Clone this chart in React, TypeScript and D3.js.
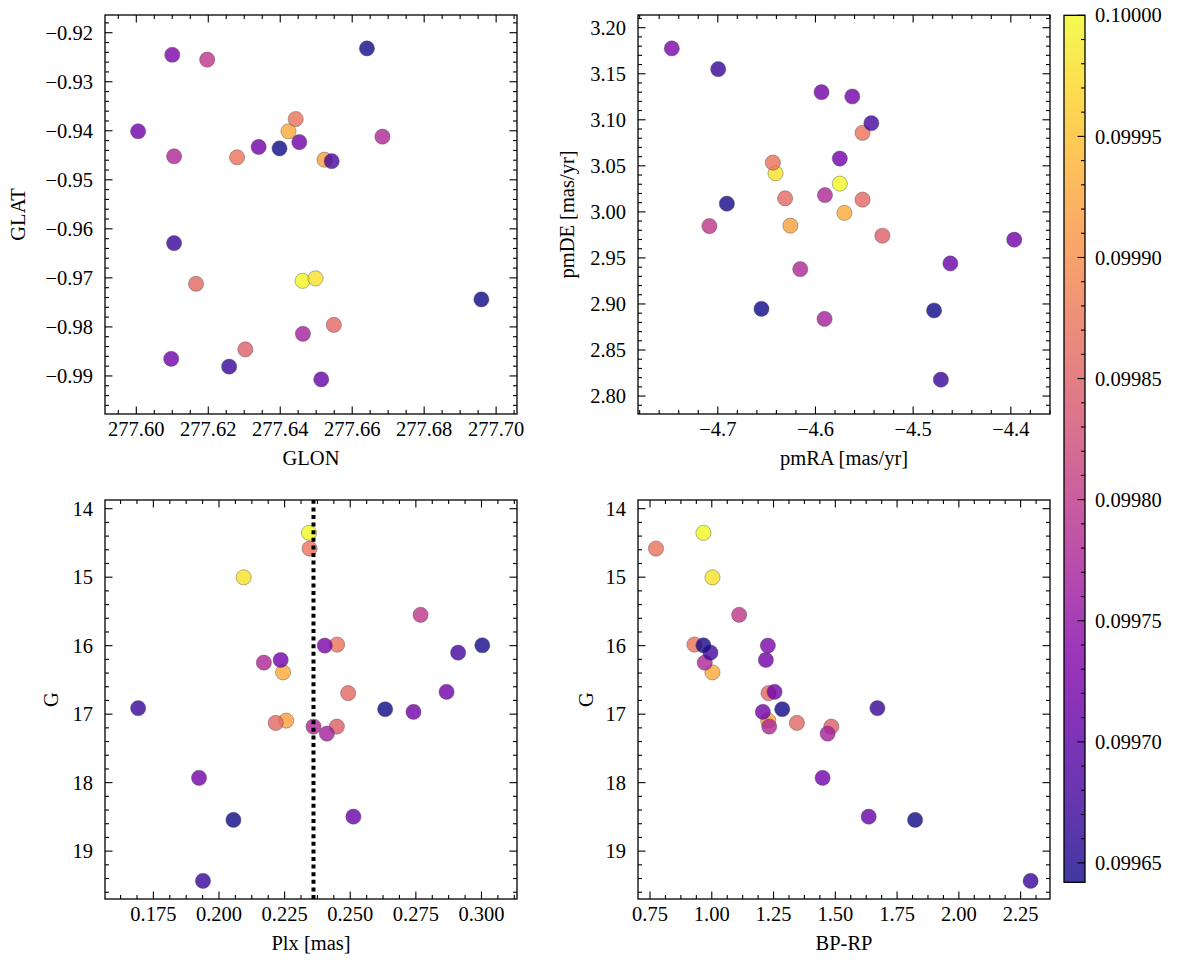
import React from "react";
import * as d3 from "d3";

// ---- data (one entry per star, drawn in this order) ----
const glon = [277.6462, 277.6498, 277.6423, 277.6523, 277.6443, 277.628, 277.6166, 277.6549, 277.6303, 277.6197, 277.6684, 277.6105, 277.6463, 277.61, 277.6005, 277.634, 277.6453, 277.6097, 277.6514, 277.6543, 277.6105, 277.6258, 277.6641, 277.6398, 277.6959];
const glat = [-0.9706, -0.9701, -0.9401, -0.9459, -0.9376, -0.9454, -0.9712, -0.9796, -0.9846, -0.9255, -0.9412, -0.9452, -0.9814, -0.9245, -0.9401, -0.9433, -0.9423, -0.9865, -0.9907, -0.9462, -0.9629, -0.9881, -0.9232, -0.9436, -0.9744];
const pmra = [-4.5751, -4.6409, -4.5704, -4.6257, -4.6436, -4.5518, -4.6311, -4.5518, -4.5315, -4.7086, -4.5903, -4.6156, -4.5907, -4.7471, -4.5938, -4.5623, -4.5751, -4.3965, -4.4619, -4.5428, -4.6996, -4.4716, -4.6907, -4.6553, -4.4786];
const pmde = [3.0307, 3.0419, 2.9989, 2.985, 3.0535, 3.0858, 3.0147, 3.0133, 2.9741, 2.9846, 3.0183, 2.9378, 2.8838, 3.1775, 3.13, 3.1253, 3.0579, 2.9698, 2.944, 3.0963, 3.155, 2.8178, 3.0089, 2.8947, 2.8929];
const plx = [0.2343, 0.2094, 0.2244, 0.2256, 0.2345, 0.245, 0.2492, 0.2216, 0.2449, 0.2768, 0.2171, 0.236, 0.2411, 0.2403, 0.2235, 0.2867, 0.2741, 0.1924, 0.2512, 0.2911, 0.1692, 0.1939, 0.3003, 0.2633, 0.2055];
const gmag = [14.352, 15.002, 16.39, 17.094, 14.582, 15.984, 16.693, 17.128, 17.182, 15.549, 16.248, 17.182, 17.284, 15.999, 16.209, 16.674, 16.967, 17.93, 18.497, 16.102, 16.913, 19.435, 15.994, 16.928, 18.545];
const bprp = [0.9662, 1.0027, 1.0027, 1.2284, 0.7743, 0.9297, 1.2297, 1.3446, 1.4838, 1.1108, 0.9716, 1.2324, 1.4689, 1.227, 1.2189, 1.2541, 1.2068, 1.4486, 1.6351, 0.9946, 1.6703, 2.2905, 0.9662, 1.2851, 1.823];
const prob = [0.1, 0.09998, 0.09993, 0.09992, 0.09987, 0.09987, 0.09986, 0.09986, 0.09985, 0.0998, 0.09978, 0.09978, 0.09977, 0.09973, 0.09972, 0.09972, 0.09972, 0.09972, 0.09971, 0.09968, 0.09967, 0.09967, 0.099645, 0.099643, 0.099642];

const plxLine = 0.236;

// tick labels
const glonTicks = [277.6, 277.62, 277.64, 277.66, 277.68, 277.7];
const glatTicks = [-0.92, -0.93, -0.94, -0.95, -0.96, -0.97, -0.98, -0.99];
const pmraTicks = [-4.7, -4.6, -4.5, -4.4];
const pmdeTicks = [2.8, 2.85, 2.9, 2.95, 3.0, 3.05, 3.1, 3.15, 3.2];
const plxTicks = [0.175, 0.2, 0.225, 0.25, 0.275, 0.3];
const gTicks = [14, 15, 16, 17, 18, 19];
const bprpTicks = [0.75, 1.0, 1.25, 1.5, 1.75, 2.0, 2.25];
const cbarTicks = [0.09965, 0.0997, 0.09975, 0.0998, 0.09985, 0.0999, 0.09995, 0.1];

const FONT = "'Liberation Serif', 'Times New Roman', serif";
const FS = 20.5;
const W = 1177;
const H = 965;

const cmin = 0.099642;
const cmax = 0.1;
const color = d3.scaleSequential(d3.interpolatePlasma).domain([cmin, cmax]);

function minorTicks(major: number[], ndiv: number, lo: number, hi: number) {
  const step = Math.abs(major[1] - major[0]) / ndiv;
  const start = Math.min(...major);
  const out: number[] = [];
  for (let k = -ndiv * 4; k < 400; k++) {
    const v = start + k * step;
    if (v < lo - 1e-12 || v > hi + 1e-12) continue;
    if (k % ndiv === 0) continue;
    out.push(v);
  }
  return out;
}

const fmtMinus = (s: string) => s.replace("-", "\u2212");

type PanelProps = {
  x0: number; x1: number; y0: number; y1: number;
  xd: [number, number]; yd: [number, number]; yRev?: boolean;
  xs: number[]; ys: number[];
  xt: number[]; yt: number[]; xdiv: number; ydiv: number;
  xfmt: (v: number) => string; yfmt: (v: number) => string;
  xlabel: string; ylabel: string; ylabOff: number;
  vline?: number;
};

function Panel(p: PanelProps) {
  const sx = d3.scaleLinear().domain(p.xd).range([p.x0, p.x1]);
  const sy = d3.scaleLinear().domain(p.yd).range(p.yRev ? [p.y0, p.y1] : [p.y1, p.y0]);
  const xlo = Math.min(...p.xd), xhi = Math.max(...p.xd);
  const ylo = Math.min(...p.yd), yhi = Math.max(...p.yd);
  const xmin = minorTicks(p.xt, p.xdiv, xlo, xhi);
  const ymin = minorTicks(p.yt, p.ydiv, ylo, yhi);
  const MAJ = 7.5, MIN = 4;
  const tickStroke = { stroke: "#000", strokeWidth: 1.1 };
  return (
    <g>
      {p.xs.map((_, i) => (
        <circle key={i} cx={sx(p.xs[i])} cy={sy(p.ys[i])} r={7.6}
          fill={color(prob[i])} fillOpacity={0.8}
          stroke="#4a4a4a" strokeOpacity={0.7} strokeWidth={0.6} />
      ))}
      {p.vline !== undefined && (
        <line x1={sx(p.vline)} x2={sx(p.vline)} y1={p.y1} y2={p.y0}
          stroke="#000" strokeWidth={4} strokeDasharray="4 3.6" />
      )}
      {/* x ticks */}
      {p.xt.map((v) => (
        <g key={"xt" + v}>
          <line x1={sx(v)} x2={sx(v)} y1={p.y1} y2={p.y1 - MAJ} {...tickStroke} />
          <line x1={sx(v)} x2={sx(v)} y1={p.y0} y2={p.y0 + MAJ} {...tickStroke} />
          <text x={sx(v)} y={p.y1 + 22} textAnchor="middle" fontFamily={FONT} fontSize={FS}>{p.xfmt(v)}</text>
        </g>
      ))}
      {xmin.map((v) => (
        <g key={"xm" + v}>
          <line x1={sx(v)} x2={sx(v)} y1={p.y1} y2={p.y1 - MIN} {...tickStroke} />
          <line x1={sx(v)} x2={sx(v)} y1={p.y0} y2={p.y0 + MIN} {...tickStroke} />
        </g>
      ))}
      {/* y ticks */}
      {p.yt.map((v) => (
        <g key={"yt" + v}>
          <line x1={p.x0} x2={p.x0 + MAJ} y1={sy(v)} y2={sy(v)} {...tickStroke} />
          <line x1={p.x1} x2={p.x1 - MAJ} y1={sy(v)} y2={sy(v)} {...tickStroke} />
          <text x={p.x0 - 12} y={sy(v)} dy="0.35em" textAnchor="end" fontFamily={FONT} fontSize={FS}>{p.yfmt(v)}</text>
        </g>
      ))}
      {ymin.map((v) => (
        <g key={"ym" + v}>
          <line x1={p.x0} x2={p.x0 + MIN} y1={sy(v)} y2={sy(v)} {...tickStroke} />
          <line x1={p.x1} x2={p.x1 - MIN} y1={sy(v)} y2={sy(v)} {...tickStroke} />
        </g>
      ))}
      <rect x={p.x0} y={p.y0} width={p.x1 - p.x0} height={p.y1 - p.y0} fill="none" stroke="#000" strokeWidth={1.3} />
      <text x={(p.x0 + p.x1) / 2} y={p.y1 + 51} textAnchor="middle" fontFamily={FONT} fontSize={FS}>{p.xlabel}</text>
      <text transform={`translate(${p.x0 - p.ylabOff},${(p.y0 + p.y1) / 2}) rotate(-90)`} textAnchor="middle" fontFamily={FONT} fontSize={FS}>{p.ylabel}</text>
    </g>
  );
}

export default function App() {
  const top1 = 15, bot1 = 414, top2 = 500, bot2 = 899;
  const L1 = 105, R1 = 517, L2 = 638, R2 = 1050;
  const cbX0 = 1064, cbX1 = 1085, cbY0 = 15.3, cbY1 = 882.3;
  const cy = d3.scaleLinear().domain([cmin, cmax]).range([cbY1, cbY0]);
  const stops = d3.range(0, 1.0001, 0.02);
  const cbMinor = d3.range(0, 40).map((k) => 0.0996 + k * 0.00001).filter((v) => v >= cmin && v <= cmax + 1e-12 && Math.abs(Math.round(v / 0.00005) * 0.00005 - v) > 1e-9);
  return (
    <svg width={W} height={H} style={{ position: "absolute", left: 0, top: 0, background: "#fff" }}>
      <defs>
        <linearGradient id="cbar" x1="0" y1="1" x2="0" y2="0">
          {stops.map((t) => (
            <stop key={t} offset={t} stopColor={d3.interpolatePlasma(t)} stopOpacity={0.8} />
          ))}
        </linearGradient>
      </defs>
      <rect x={0} y={0} width={W} height={H} fill="#fff" />
      <Panel x0={L1} x1={R1} y0={top1} y1={bot1}
        xd={[277.5913, 277.7058]} yd={[-0.99776, -0.91639]}
        xs={glon} ys={glat} xt={glonTicks} yt={glatTicks} xdiv={4} ydiv={5}
        xfmt={(v) => v.toFixed(2)} yfmt={(v) => fmtMinus(v.toFixed(2))}
        xlabel="GLON" ylabel="GLAT" ylabOff={80} />
      <Panel x0={L2} x1={R2} y0={top1} y1={bot1}
        xd={[-4.7817, -4.3599]} yd={[2.7805, 3.2138]}
        xs={pmra} ys={pmde} xt={pmraTicks} yt={pmdeTicks} xdiv={5} ydiv={5}
        xfmt={(v) => fmtMinus(v.toFixed(1))} yfmt={(v) => v.toFixed(2)}
        xlabel="pmRA [mas/yr]" ylabel="pmDE [mas/yr]" ylabOff={64} />
      <Panel x0={L1} x1={R1} y0={top2} y1={bot2}
        xd={[0.15657, 0.31353]} yd={[13.873, 19.699]} yRev
        xs={plx} ys={gmag} xt={plxTicks} yt={gTicks} xdiv={4} ydiv={5}
        xfmt={(v) => v.toFixed(3)} yfmt={(v) => String(v)}
        xlabel="Plx [mas]" ylabel="G" ylabOff={47} vline={plxLine} />
      <Panel x0={L2} x1={R2} y0={top2} y1={bot2}
        xd={[0.7014, 2.3689]} yd={[13.873, 19.699]} yRev
        xs={bprp} ys={gmag} xt={bprpTicks} yt={gTicks} xdiv={4} ydiv={5}
        xfmt={(v) => v.toFixed(2)} yfmt={(v) => String(v)}
        xlabel="BP-RP" ylabel="G" ylabOff={45} />
      {/* colorbar */}
      <rect x={cbX0} y={cbY0} width={cbX1 - cbX0} height={cbY1 - cbY0} fill="url(#cbar)" />
      {cbTicksRender()}
      <rect x={cbX0} y={cbY0} width={cbX1 - cbX0} height={cbY1 - cbY0} fill="none" stroke="#000" strokeWidth={1.3} />
    </svg>
  );

  function cbTicksRender() {
    return (
      <g>
        {cbarTicks.map((v) => (
          <g key={"cb" + v}>
            <line x1={cbX1} x2={cbX1 - 7.5} y1={cy(v)} y2={cy(v)} stroke="#000" strokeWidth={1.1} />
            <text x={cbX1 + 10} y={cy(v)} dy="0.35em" fontFamily={FONT} fontSize={FS}>{v.toFixed(5)}</text>
          </g>
        ))}
        {cbMinor.map((v) => (
          <line key={"cbm" + v} x1={cbX1} x2={cbX1 - 4} y1={cy(v)} y2={cy(v)} stroke="#000" strokeWidth={1.1} />
        ))}
      </g>
    );
  }
}
